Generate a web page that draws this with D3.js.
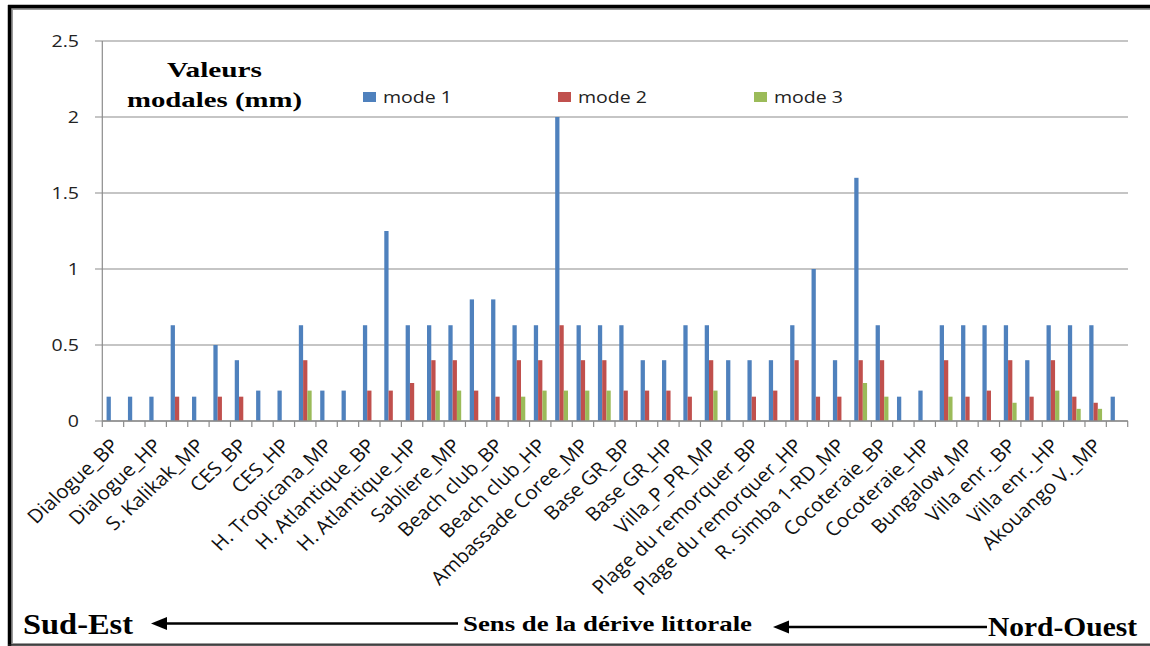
<!DOCTYPE html>
<html><head><meta charset="utf-8">
<script src="https://cdn.jsdelivr.net/npm/d3@7"></script>
<style>body{margin:0;background:#fff}svg{display:block}</style>
</head><body>
<svg id="c" width="1150" height="646"></svg>
<script>
const categories = [
 "Dialogue_BP","Dialogue_MP","Dialogue_HP",
 "S. Kalikak_BP","S. Kalikak_MP","S. Kalikak_HP",
 "CES_BP","CES_MP","CES_HP",
 "H. Tropicana_BP","H. Tropicana_MP","H. Tropicana_HP",
 "H. Atlantique_BP","H. Atlantique_MP","H. Atlantique_HP",
 "Sabliere_BP","Sabliere_MP","Sabliere_HP",
 "Beach club_BP","Beach club_MP","Beach club_HP",
 "Ambassade Coree_BP","Ambassade Coree_MP","Ambassade Coree_HP",
 "Base GR_BP","Base GR_MP","Base GR_HP",
 "Villa_P_PR_BP","Villa_P_PR_MP","Villa_P_PR_HP",
 "Plage du remorquer_BP","Plage du remorquer_MP","Plage du remorquer_HP",
 "R. Simba 1-RD_BP","R. Simba 1-RD_MP","R. Simba 1-RD_HP",
 "Cocoteraie_BP","Cocoteraie_MP","Cocoteraie_HP",
 "Bungalow_BP","Bungalow_MP","Bungalow_HP",
 "Villa enr._BP","Villa enr._MP","Villa enr._HP",
 "Akouango V._BP","Akouango V._MP","Akouango V._HP"
];
const mode1 = [0.16,0.16,0.16,0.63,0.16,0.5,0.4,0.2,0.2,0.63,0.2,0.2,0.63,1.25,0.63,0.63,0.63,0.8,0.8,0.63,0.63,2.0,0.63,0.63,0.63,0.4,0.4,0.63,0.63,0.4,0.4,0.4,0.63,1.0,0.4,1.6,0.63,0.16,0.2,0.63,0.63,0.63,0.63,0.4,0.63,0.63,0.63,0.16];
const mode2 = [0,0,0,0.16,0,0.16,0.16,0,0,0.4,0,0,0.2,0.2,0.25,0.4,0.4,0.2,0.16,0.4,0.4,0.63,0.4,0.4,0.2,0.2,0.2,0.16,0.4,0,0.16,0.2,0.4,0.16,0.16,0.4,0.4,0,0,0.4,0.16,0.2,0.4,0.16,0.4,0.16,0.12,0];
const mode3 = [0,0,0,0,0,0,0,0,0,0.2,0,0,0,0,0,0.2,0.2,0,0,0.16,0.2,0.2,0.2,0.2,0,0,0,0,0.2,0,0,0,0,0,0,0.25,0.16,0,0,0.16,0,0,0.12,0,0.2,0.08,0.08,0];
const seriesNames = ["mode 1","mode 2","mode 3"];
const yTicks = [0,0.5,1,1.5,2,2.5];
const colors = ["#4F81BD","#C0504D","#9BBB59"];
const series = [mode1, mode2, mode3];

const SX = 1.15;
const svg = d3.select("#c");

// frame
svg.append("rect").attr("x",12).attr("y",9).attr("width",1150).attr("height",635)
  .attr("fill","none").attr("stroke","#9a9a9a").attr("stroke-width",2);
svg.append("line").attr("x1",8).attr("x2",1150).attr("y1",6.5).attr("y2",6.5).attr("stroke","#000").attr("stroke-width",3.5);
svg.append("line").attr("x1",9.5).attr("x2",9.5).attr("y1",5).attr("y2",646).attr("stroke","#000").attr("stroke-width",3.5);
svg.append("line").attr("x1",8).attr("x2",1150).attr("y1",645).attr("y2",645).attr("stroke","#222").attr("stroke-width",1.5);

const x0 = d3.scaleBand().domain(d3.range(categories.length)).range([102.3,1127.7]).padding(0);
const bw = x0.bandwidth();
const x1 = d3.scaleBand().domain(d3.range(series.length)).range([bw*0.2, bw*0.8]).padding(0);
const y = d3.scaleLinear().domain([0,2.5]).range([421,41]);

// gridlines
svg.append("g").selectAll("line").data(yTicks).join("line")
  .attr("x1",95).attr("x2",1128).attr("y1",d=>y(d)).attr("y2",d=>y(d))
  .attr("stroke","#8c8c8c").attr("stroke-width",1.2);

// y axis line
svg.append("line").attr("x1",102.3).attr("x2",102.3).attr("y1",y(2.5)).attr("y2",y(0))
  .attr("stroke","#8c8c8c").attr("stroke-width",1.2);

// y labels
svg.append("g").selectAll("text").data(yTicks).join("text")
  .attr("transform",d=>`translate(79,${y(d)}) scale(${SX},1)`)
  .attr("text-anchor","end").attr("dy","0.36em")
  .attr("font-family","Open Sans").attr("font-size",17).attr("fill","#222")
  .text(d=>d3.format("")(d));

// bars
series.forEach((vals,si)=>{
  svg.append("g").selectAll("rect").data(vals).join("rect")
    .attr("x",(d,i)=>x0(i)+x1(si))
    .attr("width",x1.bandwidth())
    .attr("y",d=>y(d))
    .attr("height",d=>y(0)-y(d))
    .attr("fill",colors[si]);
});

// x axis line and ticks
svg.append("line").attr("x1",102.3).attr("x2",1127.7).attr("y1",y(0)).attr("y2",y(0))
  .attr("stroke","#8c8c8c").attr("stroke-width",1.5);
const bounds = d3.range(categories.length+1).map(i=> i<categories.length ? x0(i) : x0(i-1)+bw);
svg.append("g").selectAll("line").data(bounds).join("line")
  .attr("x1",d=>d).attr("x2",d=>d).attr("y1",y(0)).attr("y2",y(0)+6)
  .attr("stroke","#8c8c8c").attr("stroke-width",1.2);

// x labels (every other)
svg.append("g").selectAll("text").data(categories.map((c,i)=>({c,i})).filter(d=>d.i%2===0)).join("text")
  .attr("transform",d=>`translate(${x0(d.i)+bw/2+7},447) scale(1.08,1) rotate(-45)`)
  .attr("text-anchor","end")
  .attr("font-family","Open Sans").attr("font-size",19).attr("fill","#111")
  .text(d=>d.c);

// legend title
const serif = "Liberation Serif";
svg.append("text").attr("x",167).attr("y",77).attr("font-family",serif).attr("font-weight","bold")
  .attr("font-size",22).attr("textLength",95).attr("lengthAdjust","spacingAndGlyphs").text("Valeurs");
svg.append("text").attr("x",127).attr("y",107).attr("font-family",serif).attr("font-weight","bold")
  .attr("font-size",22).attr("textLength",175).attr("lengthAdjust","spacingAndGlyphs").text("modales (mm)");

// legend entries
const legX = [363,558,754];
seriesNames.forEach((n,i)=>{
  svg.append("rect").attr("x",legX[i]).attr("y",92).attr("width",13).attr("height",10).attr("fill",colors[i]);
  svg.append("text").attr("transform",`translate(${legX[i]+20},103) scale(${SX},1)`)
    .attr("font-family","Open Sans").attr("font-size",17).attr("fill","#222").text(n);
});

// bottom annotations
svg.append("text").attr("x",23).attr("y",634).attr("font-family",serif).attr("font-weight","bold")
  .attr("font-size",29).attr("textLength",110).attr("lengthAdjust","spacingAndGlyphs").text("Sud-Est");
svg.append("text").attr("x",463).attr("y",631).attr("font-family",serif).attr("font-weight","bold")
  .attr("font-size",22).attr("textLength",289).attr("lengthAdjust","spacingAndGlyphs").text("Sens de la dérive littorale");
svg.append("text").attr("x",988).attr("y",636).attr("font-family",serif).attr("font-weight","bold")
  .attr("font-size",28).attr("textLength",149).attr("lengthAdjust","spacingAndGlyphs").text("Nord-Ouest");

function arrow(xTip, xEnd, yy){
  svg.append("line").attr("x1",xTip+10).attr("x2",xEnd).attr("y1",yy).attr("y2",yy)
    .attr("stroke","#000").attr("stroke-width",2.4);
  svg.append("path").attr("d",`M${xTip},${yy} L${xTip+16},${yy-6.5} L${xTip+16},${yy+6.5} Z`).attr("fill","#000");
}
arrow(151,458,623.5);
arrow(773,987,627);
</script>
</body></html>
